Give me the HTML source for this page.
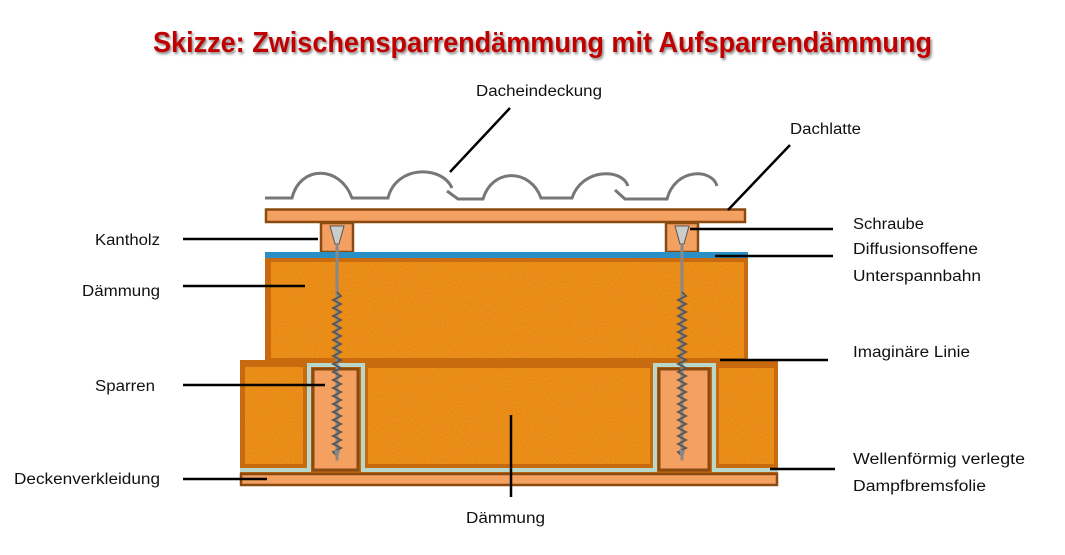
<!DOCTYPE html>
<html><head><meta charset="utf-8"><style>
html,body{margin:0;padding:0;background:#fff;}
svg{display:block}
text{font-family:"Liberation Sans",sans-serif;font-size:15.5px;fill:#111}
</style></head><body>
<svg width="1065" height="555" viewBox="0 0 1065 555" xmlns="http://www.w3.org/2000/svg">
<defs>
<filter id="sh" x="-5%" y="-20%" width="110%" height="150%"><feDropShadow dx="1.5" dy="2" stdDeviation="1.2" flood-color="#555" flood-opacity="0.7"/></filter>
<filter id="tex" x="0" y="0" width="100%" height="100%">
<feTurbulence type="fractalNoise" baseFrequency="0.8" numOctaves="2" seed="3" result="n"/>
<feColorMatrix in="n" type="matrix" values="0 0 0 0 0.72  0 0 0 0 0.36  0 0 0 0 0.02  0 0 0 2 -0.75" result="d"/>
<feComposite in="d" in2="SourceGraphic" operator="in" result="dd"/>
<feMerge><feMergeNode in="SourceGraphic"/><feMergeNode in="dd"/></feMerge>
</filter>
</defs>
<text x="153" y="52" textLength="779" lengthAdjust="spacingAndGlyphs" style="font-size:29px;font-weight:bold;fill:#c00000" filter="url(#sh)">Skizze: Zwischensparrendämmung mit Aufsparrendämmung</text>

<path d="M265 198 H292 C300 165 340 165 352 198 H388 C396 165 442 165 452 188 M447 191 L458 199 H483 C492 168 530 168 541 198 H572 C582 168 622 168 628 186 M615 190 L625 199 H667 C675 168 712 168 717 186" fill="none" stroke="#777" stroke-width="3"/>

<rect x="266" y="209.5" width="479" height="12.5" fill="#f4a060" stroke="#8a4a10" stroke-width="2.5"/>
<rect x="321" y="223" width="32" height="29" fill="#f4a060" stroke="#8a4a10" stroke-width="2.5"/>
<rect x="666" y="223" width="32" height="29" fill="#f4a060" stroke="#8a4a10" stroke-width="2.5"/>
<rect x="265" y="252" width="483" height="6" fill="#2a8fc4"/>
<rect x="265" y="258" width="483" height="108" fill="#c76a10"/>
<rect x="271" y="262" width="473" height="96" fill="#ee8418" filter="url(#tex)"/>
<rect x="240" y="360" width="538" height="116" fill="#c76a10"/>
<path d="M240 470 H309 V365 H363 V470 H655 V365 H714 V470 H778" fill="none" stroke="#b8d8cc" stroke-width="4"/>
<rect x="245" y="367" width="58" height="97" fill="#ee8418" filter="url(#tex)"/>
<rect x="368" y="368" width="282" height="96" fill="#ee8418" filter="url(#tex)"/>
<rect x="719" y="368" width="55" height="96" fill="#ee8418" filter="url(#tex)"/>
<rect x="313" y="369" width="45" height="101" fill="#f4a060" stroke="#8a4a10" stroke-width="3"/>
<rect x="659" y="369" width="50" height="101" fill="#f4a060" stroke="#8a4a10" stroke-width="3"/>
<rect x="241" y="474" width="536" height="11" fill="#f4a060" stroke="#8a4a10" stroke-width="2.5"/>

<g id="scr">
<path d="M330 226 H344 L339 244 H335 Z" fill="#ccc" stroke="#555" stroke-width="1"/>
<line x1="337" y1="244" x2="337" y2="460" stroke="#888" stroke-width="3"/>
<path d="M337 292 l4 4 l-8 4 l8 4 l-8 4 l8 4 l-8 4 l8 4 l-8 4 l8 4 l-8 4 l8 4 l-8 4 l8 4 l-8 4 l8 4 l-8 4 l8 4 l-8 4 l8 4 l-8 4 l8 4 l-8 4 l8 4 l-8 4 l8 4 l-8 4 l8 4 l-8 4 l8 4 l-8 4 l8 4 l-8 4 l8 4 l-8 4 l8 4 l-8 4 l8 4 l-8 4 l8 4 l-8 4 l4 4" fill="none" stroke="#555" stroke-width="1.8"/>
<path d="M334 450 L337 462 L340 450 Z" fill="#888"/>
</g>
<use href="#scr" transform="translate(345,0)"/>

<g stroke="#000" stroke-width="2.5" fill="none">
<line x1="510" y1="108" x2="450" y2="172"/>
<line x1="790" y1="145" x2="728" y2="210"/>
<line x1="183" y1="239" x2="318" y2="239"/>
<line x1="183" y1="286" x2="305" y2="286"/>
<line x1="183" y1="385" x2="325" y2="385"/>
<line x1="183" y1="479" x2="267" y2="479"/>
<line x1="511" y1="415" x2="511" y2="497"/>
<line x1="690" y1="229" x2="833" y2="229"/>
<line x1="715" y1="256" x2="833" y2="256"/>
<line x1="720" y1="360" x2="828" y2="360"/>
<line x1="770" y1="469" x2="835" y2="469"/>
</g>

<text x="476" y="96" textLength="126" lengthAdjust="spacingAndGlyphs">Dacheindeckung</text>
<text x="790" y="134" textLength="71" lengthAdjust="spacingAndGlyphs">Dachlatte</text>
<text x="853" y="229" textLength="71" lengthAdjust="spacingAndGlyphs">Schraube</text>
<text x="853" y="254" textLength="125" lengthAdjust="spacingAndGlyphs">Diffusionsoffene</text>
<text x="853" y="281" textLength="128" lengthAdjust="spacingAndGlyphs">Unterspannbahn</text>
<text x="853" y="357" textLength="117" lengthAdjust="spacingAndGlyphs">Imaginäre Linie</text>
<text x="853" y="464" textLength="172" lengthAdjust="spacingAndGlyphs">Wellenförmig verlegte</text>
<text x="853" y="491" textLength="133" lengthAdjust="spacingAndGlyphs">Dampfbremsfolie</text>
<text x="95" y="245" textLength="65" lengthAdjust="spacingAndGlyphs">Kantholz</text>
<text x="82" y="296" textLength="78" lengthAdjust="spacingAndGlyphs">Dämmung</text>
<text x="95" y="391" textLength="60" lengthAdjust="spacingAndGlyphs">Sparren</text>
<text x="14" y="484" textLength="146" lengthAdjust="spacingAndGlyphs">Deckenverkleidung</text>
<text x="466" y="523" textLength="79" lengthAdjust="spacingAndGlyphs">Dämmung</text>
</svg>
</body></html>
